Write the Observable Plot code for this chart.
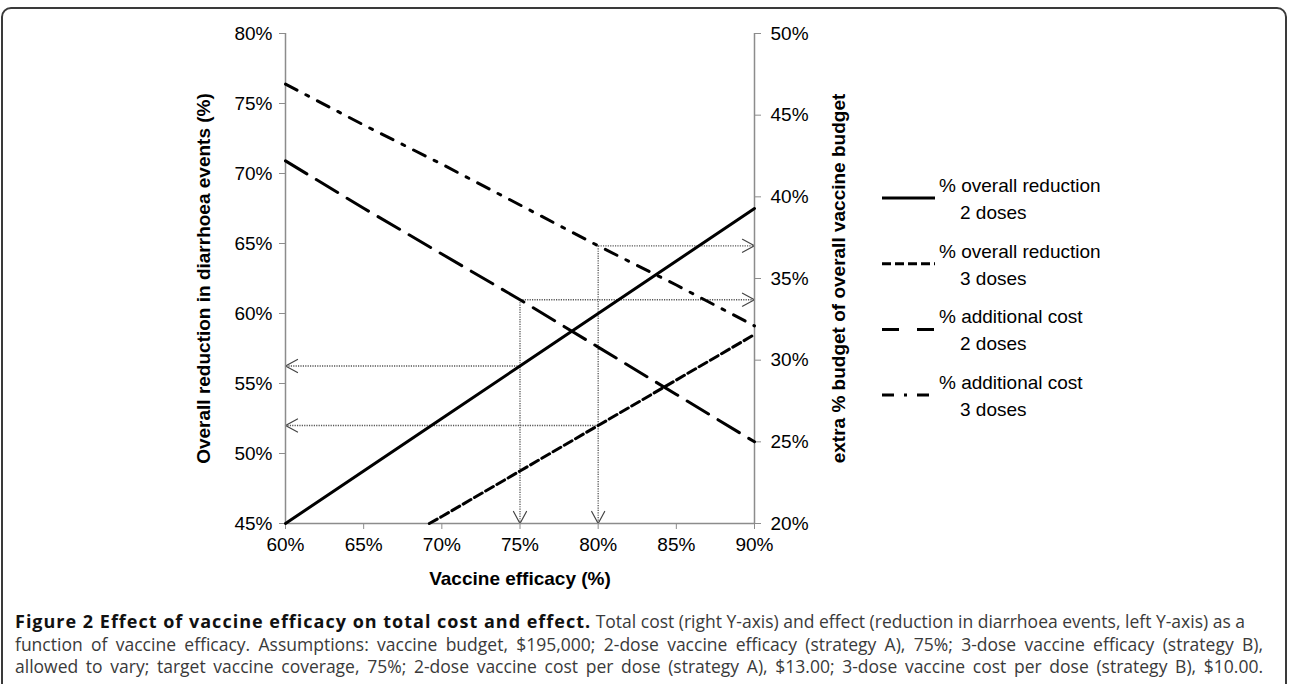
<!DOCTYPE html>
<html>
<head>
<meta charset="utf-8">
<script src="https://cdn.jsdelivr.net/npm/d3@7"></script>
<script src="https://cdn.jsdelivr.net/npm/@observablehq/plot@0.6"></script>
<style>
  body { margin:0; background:#fff; width:1289px; height:684px; overflow:hidden; position:relative; font-family:"Liberation Sans", Arial, sans-serif; }
  #frame { position:absolute; left:1px; top:7px; width:1286px; height:740px; border:2px solid #3a3a3a; border-radius:10px; box-sizing:border-box; }
  #chart { position:absolute; left:0; top:0; }
  #legend { position:absolute; left:0; top:0; }
  #caption { position:absolute; left:15px; top:610px; font-family:"Open Sans", sans-serif; font-size:17.5px; line-height:22.5px; color:#3a3a3a; }
  #caption div { text-align:justify; text-align-last:justify; white-space:nowrap; }
  #caption b { color:#111; letter-spacing:1px; font-size:18px; }
</style>
</head>
<body>
<div id="frame"></div>
<div id="chart"></div>
<svg id="legend" width="1289" height="600"></svg>
<div id="caption">
  <div style="width:1217px"><b>Figure 2 Effect of vaccine efficacy on total cost and effect.</b> Total cost (right Y-axis) and effect (reduction in diarrhoea events, left Y-axis) as a</div>
  <div style="width:1248px">function of vaccine efficacy. Assumptions: vaccine budget, $195,000; 2-dose vaccine efficacy (strategy A), 75%; 3-dose vaccine efficacy (strategy B),</div>
  <div style="width:1248px">allowed to vary; target vaccine coverage, 75%; 2-dose vaccine cost per dose (strategy A), $13.00; 3-dose vaccine cost per dose (strategy B), $10.00.</div>
</div>
<script>
// ---- data ----
const efficacy = [60, 65, 70, 75, 80, 85, 90];              // % vaccine efficacy
const reduction2 = [45, 48.75, 52.5, 56.25, 60, 63.75, 67.5]; // left axis
const reduction3Efficacy = [69.2, 70, 75, 80, 85, 90];
const reduction3 = [45, 45.5, 48.75, 52, 55.25, 58.5];        // left axis
const cost2 = [42.2, 39.3, 36.5, 33.7, 30.8, 27.9, 25.0];    // right axis
const cost3 = [46.9, 44.4, 42.0, 39.5, 37.0, 34.6, 32.1];    // right axis
const xTicks = [60, 65, 70, 75, 80, 85, 90];
const leftTicks = [45, 50, 55, 60, 65, 70, 75, 80];
const rightTicks = [20, 25, 30, 35, 40, 45, 50];
const guideEfficacyA = 75; // 2-dose efficacy
const guideEfficacyB = 80; // 3-dose efficacy
const legendLabels = ["% overall reduction", "% overall reduction", "% additional cost", "% additional cost"];
const legendSubLabels = ["2 doses", "3 doses", "2 doses", "3 doses"];

// ---- dual axis mapping ----
const leftDomain = [45, 80], rightDomain = [20, 50];
const toLeft = r => leftDomain[0] + (r - rightDomain[0]) * (leftDomain[1] - leftDomain[0]) / (rightDomain[1] - rightDomain[0]);
const toRight = l => rightDomain[0] + (l - leftDomain[0]) * (rightDomain[1] - rightDomain[0]) / (leftDomain[1] - leftDomain[0]);

const red2Rows = efficacy.map((e, i) => ({e, v: reduction2[i]}));
const red3Rows = reduction3Efficacy.map((e, i) => ({e, v: reduction3[i]}));
const cost2Rows = efficacy.map((e, i) => ({e, v: toLeft(cost2[i])}));
const cost3Rows = efficacy.map((e, i) => ({e, v: toLeft(cost3[i])}));

const costA = toLeft(cost2[efficacy.indexOf(guideEfficacyA)]);
const redA = reduction2[efficacy.indexOf(guideEfficacyA)];
const costB = toLeft(cost3[efficacy.indexOf(guideEfficacyB)]);
const redB = reduction3[reduction3Efficacy.indexOf(guideEfficacyB)];
const [xMin, xMax] = [xTicks[0], xTicks[xTicks.length - 1]];
const guides = [
  {x1: guideEfficacyA, y1: costA, x2: guideEfficacyA, y2: leftDomain[0], rot: 180},
  {x1: guideEfficacyA, y1: costA, x2: xMax, y2: costA, rot: 90},
  {x1: guideEfficacyA, y1: redA, x2: xMin, y2: redA, rot: 270},
  {x1: guideEfficacyB, y1: costB, x2: guideEfficacyB, y2: leftDomain[0], rot: 180},
  {x1: guideEfficacyB, y1: costB, x2: xMax, y2: costB, rot: 90},
  {x1: guideEfficacyB, y1: redB, x2: xMin, y2: redB, rot: 270}
];

const chevron = {
  draw(context, l) {
    context.moveTo(-6.5, -l + 12);
    context.lineTo(0, -l);
    context.lineTo(6.5, -l + 12);
  }
};

const axisGray = "#8c8c8c";
const lineStyles = [
  {dash: null},
  {dash: "9,4"},
  {dash: "25,11"},
  {dash: "13,10,3,10"}
];
const legendDash = [null, "9,4", "17,18", "12,10,3,10"];

const plot = Plot.plot({
  width: 1289, height: 600,
  marginLeft: 285, marginRight: 535, marginTop: 33, marginBottom: 77,
  style: {fontFamily: '"Liberation Sans", Arial, sans-serif', fontSize: "19px", color: "black", background: "transparent"},
  x: {domain: [xMin, xMax]},
  y: {domain: leftDomain},
  marks: [
    Plot.link(guides, {x1: "x1", y1: "y1", x2: "x2", y2: "y2", stroke: "#555", strokeWidth: 1.3, strokeDasharray: "1.2,1.2"}),
    Plot.vector(guides, {x: "x2", y: "y2", rotate: "rot", length: 12, anchor: "end", shape: chevron, stroke: "#444", strokeWidth: 1.2}),
    Plot.ruleX([xMin, xMax], {stroke: axisGray, strokeWidth: 1.5}),
    Plot.ruleY([leftDomain[0]], {stroke: axisGray, strokeWidth: 1.5}),
    Plot.axisX(xTicks, {anchor: "bottom", tickSize: 6, tickPadding: 8, stroke: axisGray, tickFormat: d => d + "%",
      label: "Vaccine efficacy (%)", labelAnchor: "center", labelArrow: "none", labelOffset: 61}),
    Plot.axisY(leftTicks, {anchor: "left", tickSize: 6, tickPadding: 7, stroke: axisGray, tickFormat: d => d + "%",
      label: "Overall reduction in diarrhoea events (%)", labelAnchor: "center", labelArrow: "none", labelOffset: 89}),
    Plot.axisY(rightTicks.map(toLeft), {anchor: "right", tickSize: 6, tickPadding: 10, stroke: axisGray,
      tickFormat: d => Math.round(toRight(d)) + "%",
      label: "extra % budget of overall vaccine budget", labelAnchor: "center", labelArrow: "none", labelOffset: 90}),
    Plot.line(red2Rows, {x: "e", y: "v", stroke: "black", strokeWidth: 3}),
    Plot.line(red3Rows, {x: "e", y: "v", stroke: "black", strokeWidth: 3, strokeDasharray: lineStyles[1].dash}),
    Plot.line(cost2Rows, {x: "e", y: "v", stroke: "black", strokeWidth: 3, strokeDasharray: lineStyles[2].dash}),
    Plot.line(cost3Rows, {x: "e", y: "v", stroke: "black", strokeWidth: 3, strokeDasharray: lineStyles[3].dash})
  ]
});
document.getElementById("chart").appendChild(plot);
d3.select(plot).selectAll('g[aria-label="x-axis label"] text, g[aria-label="y-axis label"] text')
  .attr("font-weight", "bold");

// ---- legend ----
const lg = d3.select("#legend").attr("font-family", '"Liberation Sans", Arial, sans-serif').attr("font-size", 19);
legendLabels.forEach((lab, i) => {
  const y = 198 + i * 65.7;
  lg.append("line").attr("x1", 882).attr("x2", 935).attr("y1", y).attr("y2", y)
    .attr("stroke", "black").attr("stroke-width", 3)
    .attr("stroke-dasharray", legendDash[i]);
  lg.append("text").attr("x", 939).attr("y", y - 6).text(lab);
  lg.append("text").attr("x", 960).attr("y", y + 21).text(legendSubLabels[i]);
});
</script>
</body>
</html>
